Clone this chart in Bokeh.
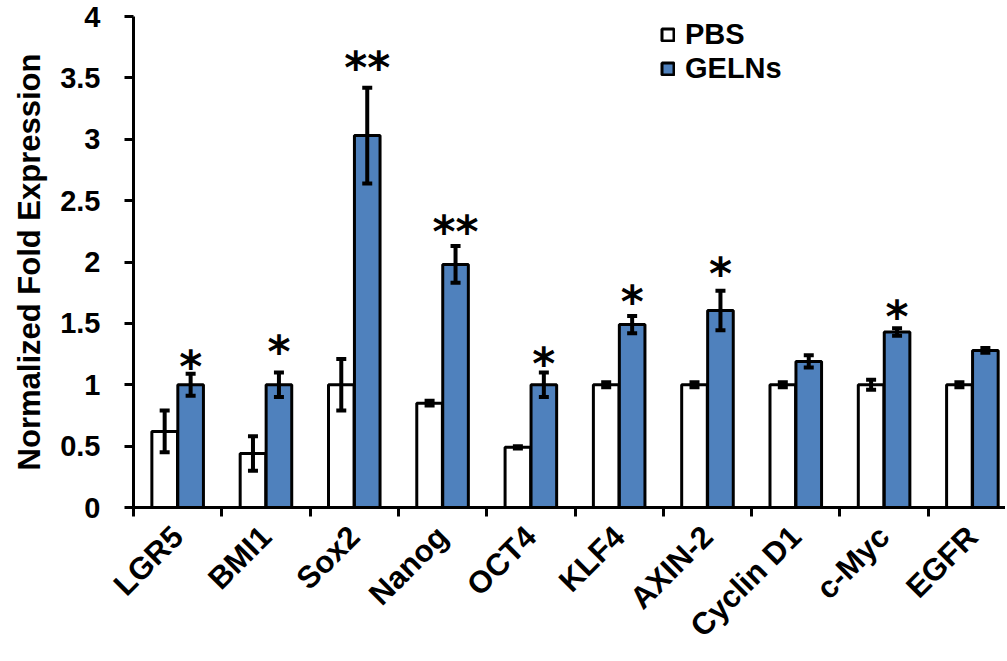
import math
from bokeh.plotting import figure
from bokeh.models import (ColumnDataSource, Range1d, FixedTicker, Whisker, TeeHead,
                          Legend, LegendItem, SingleIntervalTicker)
from bokeh.core.properties import value
from bokeh.embed import file_html
from bokeh.resources import INLINE

genes = ["LGR5", "BMI1", "Sox2", "Nanog", "OCT4", "KLF4", "AXIN-2", "Cyclin D1", "c-Myc", "EGFR"]
pbs = [0.62, 0.44, 1.00, 0.85, 0.49, 1.00, 1.00, 1.00, 1.00, 1.00]
pbs_err = [0.17, 0.14, 0.21, 0.02, 0.01, 0.02, 0.02, 0.02, 0.04, 0.02]
geln = [1.00, 1.00, 3.03, 1.98, 1.00, 1.49, 1.605, 1.19, 1.43, 1.28]
geln_err = [0.09, 0.10, 0.39, 0.15, 0.10, 0.07, 0.16, 0.05, 0.03, 0.02]
stars = ["*", "*", "**", "**", "*", "*", "*", "", "*", ""]
star_y = [1.20, 1.32, 3.63, 2.30, 1.225, 1.727, 1.958, 0, 1.605, 0]

BLUE = "#4F81BD"
FONT = "Liberation Sans"

centers = [i + 0.5 for i in range(len(genes))]
off = 0.147
bw = 0.29

src_p = ColumnDataSource(dict(x=[c - off for c in centers], top=pbs,
                              upper=[v + e for v, e in zip(pbs, pbs_err)],
                              lower=[v - e for v, e in zip(pbs, pbs_err)]))
src_g = ColumnDataSource(dict(x=[c + off for c in centers], top=geln,
                              upper=[v + e for v, e in zip(geln, geln_err)],
                              lower=[v - e for v, e in zip(geln, geln_err)]))

p = figure(width=1005, height=661, x_range=Range1d(0, 9.875), y_range=Range1d(0, 4),
           output_backend="svg", toolbar_location=None,
           min_border_left=133, min_border_right=0, min_border_top=16, min_border_bottom=154)
p.outline_line_color = None
p.xgrid.visible = False
p.ygrid.visible = False

r_p = p.vbar(x="x", top="top", width=bw, source=src_p, fill_color="white",
             line_color="black", line_width=3)
r_g = p.vbar(x="x", top="top", width=bw, source=src_g, fill_color=BLUE,
             line_color="black", line_width=3)

for src in (src_p, src_g):
    w = Whisker(base="x", upper="upper", lower="lower", source=src,
                line_width=4, line_color="black", level="overlay",
                upper_head=TeeHead(size=10, line_width=4, line_color="black"),
                lower_head=TeeHead(size=10, line_width=4, line_color="black"))
    p.add_layout(w)

sx = [c + off for c, s in zip(centers, stars) if s]
sy = [y for y, s in zip(star_y, stars) if s]
st = [s for s in stars if s]
p.text(x=sx, y=sy, text=st, text_font=value("DejaVu Sans"), text_font_size="44px",
       text_font_style="bold", text_align="center", text_baseline="middle",
       y_offset=6, text_color="black")

# axes
p.yaxis.ticker = SingleIntervalTicker(interval=0.5)
p.yaxis.axis_label = "Normalized Fold Expression"
p.yaxis.axis_label_text_font = FONT
p.yaxis.axis_label_text_font_style = "bold"
p.yaxis.axis_label_text_font_size = "31px"
p.yaxis.axis_label_text_color = "black"
p.yaxis.axis_label_standoff = 10
p.yaxis.major_label_text_font = FONT
p.yaxis.major_label_text_font_style = "bold"
p.yaxis.major_label_text_font_size = "29px"
p.yaxis.major_label_text_color = "black"
p.yaxis.major_label_standoff = 24
p.yaxis.major_tick_out = 9
p.yaxis.major_tick_in = 0
p.yaxis.major_tick_line_width = 3
p.yaxis.minor_tick_line_color = None
p.yaxis.axis_line_width = 3

p.xaxis.ticker = FixedTicker(ticks=centers, minor_ticks=list(range(len(genes) + 1)))
p.xaxis.major_label_overrides = {c: g for c, g in zip(centers, genes)}
p.xaxis.major_label_orientation = math.pi / 4
p.xaxis.major_label_text_font = FONT
p.xaxis.major_label_text_font_style = "bold"
p.xaxis.major_label_text_font_size = "31px"
p.xaxis.major_label_text_color = "black"
p.xaxis.major_tick_line_color = None
p.xaxis.major_tick_out = 0
p.xaxis.major_tick_in = 0
p.xaxis.major_label_standoff = 15
p.xaxis.minor_tick_out = 9
p.xaxis.minor_tick_in = 0
p.xaxis.minor_tick_line_width = 3
p.xaxis.minor_tick_line_color = "black"
p.xaxis.axis_line_width = 3

legend = Legend(items=[LegendItem(label="PBS", renderers=[r_p]),
                       LegendItem(label="GELNs", renderers=[r_g])],
                location=(527, 422), orientation="vertical")
legend.label_text_font = FONT
legend.label_text_font_style = "bold"
legend.label_text_font_size = "29px"
legend.label_text_color = "black"
legend.glyph_width = 15
legend.glyph_height = 15
legend.label_standoff = 10
legend.label_height = 34
legend.spacing = 0
legend.padding = 0
legend.margin = 0
legend.border_line_color = None
legend.background_fill_alpha = 0
p.add_layout(legend)

open("out.html", "w").write(file_html(p, INLINE))
